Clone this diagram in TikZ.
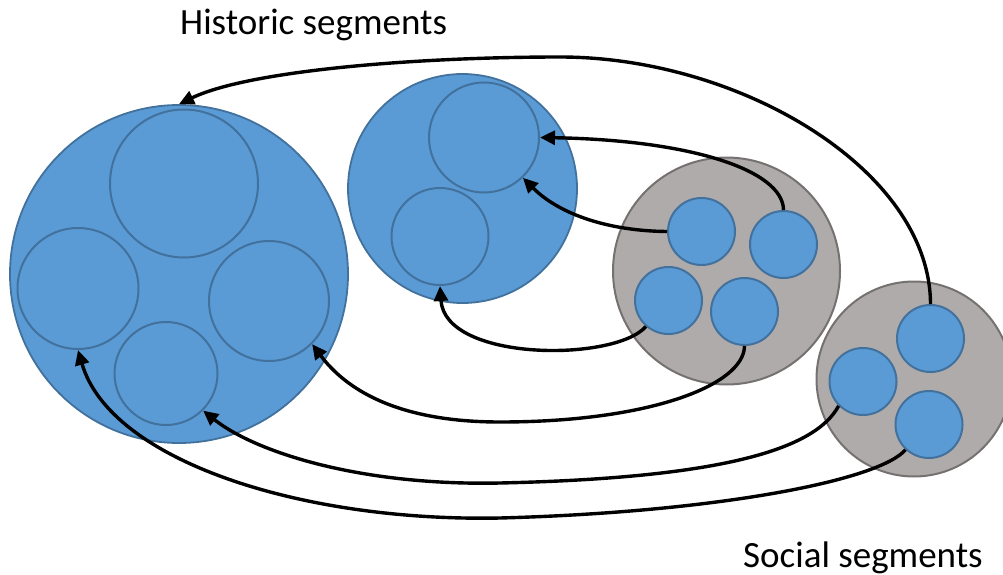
\documentclass[tikz,border=0pt]{standalone}
\usepackage{fontspec}
\setmainfont{Carlito}
\usetikzlibrary{arrows.meta}
\definecolor{segblue}{HTML}{5B9BD5}
\definecolor{segblueline}{HTML}{41719C}
\definecolor{seggray}{HTML}{AFABAB}
\definecolor{seggrayline}{HTML}{767171}
\tikzset{
  bluecirc/.style={circle, inner sep=0pt, fill=segblue, draw=segblueline, line width=1.8pt},
  innercirc/.style={circle, inner sep=0pt, draw=segblueline, line width=2pt},
  graycirc/.style={circle, inner sep=0pt, fill=seggray, draw=seggrayline, line width=2pt},
  smallcirc/.style={circle, inner sep=0pt, fill=segblue, draw=segblueline, line width=2pt, minimum size=67pt},
  link/.style={line width=3.4pt, -{Triangle[length=15pt,width=14pt]}},
  label/.style={font=\fontsize{37}{40}\selectfont, inner sep=0pt, anchor=base west}
}
\begin{document}
\begin{tikzpicture}[x=1pt,y=-1pt]
\useasboundingbox (0,0) rectangle (1003,575);
\clip (0,0) rectangle (1003,575);
% large historic circle
\node[bluecirc, minimum size=338pt] (big) at (179,274) {};
\node[innercirc, minimum size=148pt] (bt) at (184,183.5) {};
\node[innercirc, minimum size=121pt] (bl) at (78,288.5) {};
\node[innercirc, minimum size=120pt] (br) at (269,301) {};
\node[innercirc, minimum size=103pt] (bb) at (166,373.5) {};
% medium historic circle
\node[bluecirc, minimum size=229pt] (med) at (462.5,188.5) {};
\node[innercirc, minimum size=110pt] (mt) at (484,137.5) {};
\node[innercirc, minimum size=97pt] (mb) at (440,236.5) {};
% social circle 1
\node[graycirc, minimum size=227pt] (g1) at (726.5,271) {};
\node[smallcirc] (A) at (701.5,231.5) {};
\node[smallcirc] (B) at (783.5,244.5) {};
\node[smallcirc] (C) at (668.5,300.5) {};
\node[smallcirc] (D) at (744.5,311.5) {};
% social circle 2
\node[graycirc, minimum size=195pt] (g2) at (914,379) {};
\node[smallcirc] (E) at (930.5,338.5) {};
\node[smallcirc] (F) at (863,381.5) {};
\node[smallcirc] (G) at (929,424.5) {};
% labels
\node[label] (hist) at (180,35) {Historic segments};
\node[label] (soc) at (743,567) {Social segments};
% connectors
\draw[link] (E.north) .. controls (930,170) and (740,57) .. (560,57)
  .. controls (420,57) and (250,70) .. (big.north);
\draw[link] (B.north) .. controls (783,170) and (690,140) .. (mt.east);
\draw[link] (A.west) .. controls (610,231) and (560,215) .. (mt.-46);
\draw[link] (C.229) .. controls (615,362) and (445,362) .. (mb.south);
\draw[link] (D.south) .. controls (744,385) and (650,422) .. (500,422)
  .. controls (395,422) and (345,388) .. (br.-45);
\draw[link] (F.225) .. controls (815,450) and (720,478) .. (500,483)
  .. controls (360,486) and (255,452) .. (bb.-45);
\draw[link] (G.227) .. controls (880,480) and (720,512) .. (500,518)
  .. controls (300,522) and (110,460) .. (bl.south);
\end{tikzpicture}
\end{document}
